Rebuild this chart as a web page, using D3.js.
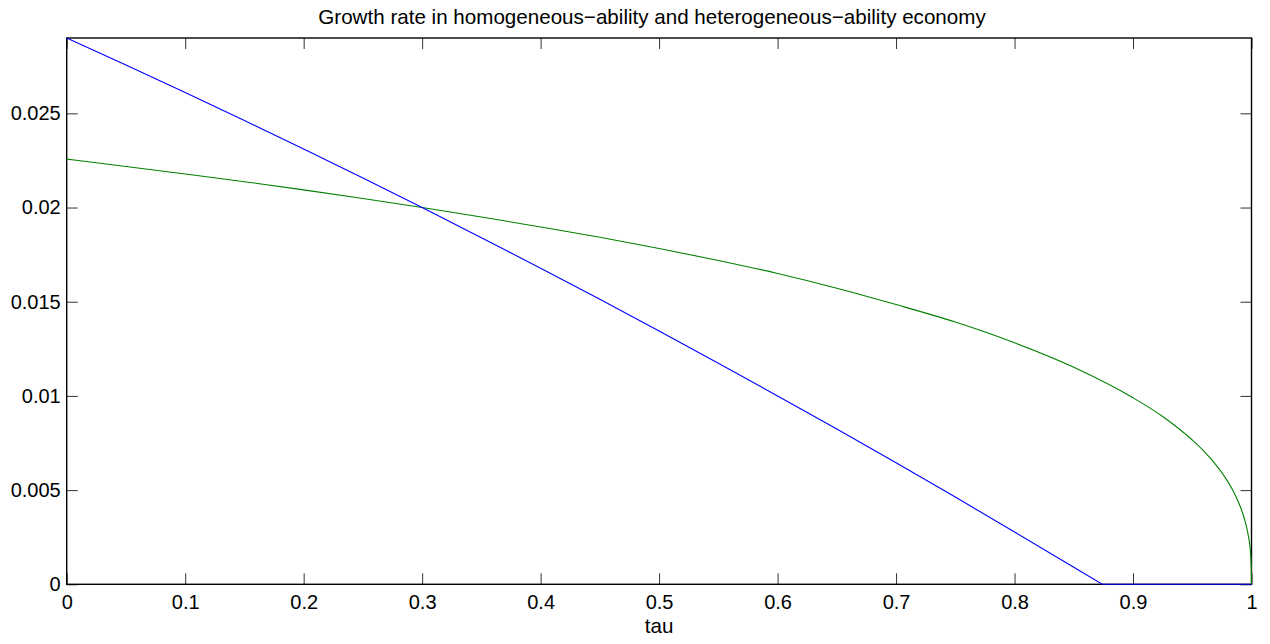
<!DOCTYPE html>
<html>
<head>
<meta charset="utf-8">
<script src="https://cdn.jsdelivr.net/npm/d3@7"></script>
<style>
  html, body { margin: 0; padding: 0; background: #fff; }
  svg { display: block; font-family: "Liberation Sans", Arial, Helvetica, sans-serif; }
</style>
</head>
<body>
<svg id="chart" width="1270" height="644"></svg>
<script>
// ---- data ----
const titleText = "Growth rate in homogeneous\u2212ability and heterogeneous\u2212ability economy";
const xLabel = "tau";
const xTicks = [0, 0.1, 0.2, 0.3, 0.4, 0.5, 0.6, 0.7, 0.8, 0.9, 1];
const xTickLabels = ["0", "0.1", "0.2", "0.3", "0.4", "0.5", "0.6", "0.7", "0.8", "0.9", "1"];
const yTicks = [0, 0.005, 0.01, 0.015, 0.02, 0.025];
const yTickLabels = ["0", "0.005", "0.01", "0.015", "0.02", "0.025"];

// homogeneous-ability economy (blue)
const blueTau = [0, 0.05, 0.1, 0.15, 0.2, 0.25, 0.3, 0.35, 0.4, 0.45, 0.5, 0.55, 0.6, 0.65, 0.7, 0.75, 0.8, 0.85, 0.874, 0.9, 0.95, 1];
const blueVal = [0.02900, 0.02757, 0.02611, 0.02462, 0.02311, 0.02157, 0.02000, 0.01840, 0.01678, 0.01513, 0.01345, 0.01174, 0.01000, 0.00824, 0.00645, 0.00463, 0.00278, 0.00091, 0, 0, 0, 0];

// heterogeneous-ability economy (green)
const greenTau = [0, 0.05, 0.1, 0.15, 0.2, 0.25, 0.3, 0.35, 0.4, 0.45, 0.5, 0.55, 0.6, 0.65, 0.7, 0.75, 0.8, 0.85, 0.9, 0.925, 0.95, 0.96, 0.97, 0.98, 0.985, 0.99, 0.994, 0.997, 0.999, 0.9998, 1];
const greenVal = [0.02257, 0.02218, 0.02178, 0.02137, 0.02094, 0.02048, 0.02000, 0.01950, 0.01897, 0.01842, 0.01783, 0.01719, 0.01650, 0.01572, 0.01485, 0.01392, 0.01282, 0.01152, 0.00990, 0.00891, 0.00766, 0.00706, 0.00634, 0.00545, 0.00490, 0.00421, 0.00348, 0.00269, 0.00179, 0.00098, 0];

// ---- layout ----
const svg = d3.select("#chart");
const mLeft = 66.7, mRight = 1251.5, mTop = 38, mBottom = 584.3;
const x = d3.scaleLinear().domain([0, 1]).range([mLeft, mRight]);
const y = d3.scaleLinear().domain([0, 0.029]).range([mBottom, mTop]);
const tickLen = 11;
const fontSize = 20;

// axes (MATLAB style: inward ticks on all sides)
const axB = d3.axisBottom(x).tickValues(xTicks).tickFormat((d, i) => xTickLabels[i]).tickSizeInner(-tickLen).tickSizeOuter(0).tickPadding(10.8);
const axT = d3.axisTop(x).tickValues(xTicks).tickFormat("").tickSizeInner(-tickLen).tickSizeOuter(0);
const axL = d3.axisLeft(y).tickValues(yTicks).tickFormat((d, i) => yTickLabels[i]).tickSizeInner(-tickLen).tickSizeOuter(0).tickPadding(6);
const axR = d3.axisRight(y).tickValues(yTicks).tickFormat("").tickSizeInner(-tickLen).tickSizeOuter(0);

function style(g) {
  g.select(".domain").remove();
  g.selectAll(".tick line").attr("stroke", "#333").attr("stroke-width", 1);
  g.selectAll(".tick text").attr("fill", "#000").style("font-size", fontSize + "px")
    .style("font-family", "'Liberation Sans', Arial, Helvetica, sans-serif");
}
svg.append("g").attr("transform", `translate(0,${mBottom})`).call(axB).call(style);
svg.append("g").attr("transform", `translate(0,${mTop})`).call(axT).call(style);
svg.append("g").attr("transform", `translate(${mLeft},0)`).call(axL).call(style);
svg.append("g").attr("transform", `translate(${mRight},0)`).call(axR).call(style);

// box
svg.append("rect").attr("x", mLeft).attr("y", mTop).attr("width", mRight - mLeft).attr("height", mBottom - mTop)
  .attr("fill", "none").attr("stroke", "#000").attr("stroke-width", 1.4);

// curves
const smooth = d3.line().x(d => x(d[0])).y(d => y(d[1])).curve(d3.curveMonotoneX);
const straight = d3.line().x(d => x(d[0])).y(d => y(d[1]));
svg.append("path")
  .datum(greenTau.map((t, i) => [t, greenVal[i]]))
  .attr("d", smooth).attr("fill", "none").attr("stroke", "#008000").attr("stroke-width", 1.1);
svg.append("path")
  .datum(blueTau.map((t, i) => [t, blueVal[i]]))
  .attr("d", straight).attr("fill", "none").attr("stroke", "#0000ff").attr("stroke-width", 1.1);

// title & label
svg.append("text").attr("x", 652).attr("y", 24).attr("text-anchor", "middle")
  .style("font-size", "20.6px").text(titleText);
svg.append("text").attr("x", x(0.5)).attr("y", 633).attr("text-anchor", "middle")
  .style("font-size", "20.6px").text(xLabel);
</script>
</body>
</html>
